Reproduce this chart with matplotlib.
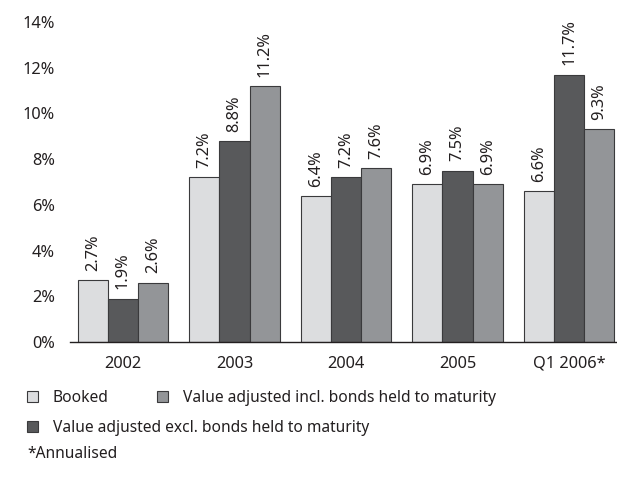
import matplotlib.pyplot as plt
import numpy as np

# Return on investment per year, three measures
years = ['2002', '2003', '2004', '2005', 'Q1 2006*']
booked = [2.7, 7.2, 6.4, 6.9, 6.6]
excl_htm = [1.9, 8.8, 7.2, 7.5, 11.7]
incl_htm = [2.6, 11.2, 7.6, 6.9, 9.3]
yticks = [0, 2, 4, 6, 8, 10, 12, 14]

series = [
    ('Booked', booked, '#dcdddf'),
    ('Value adjusted excl. bonds held to maturity', excl_htm, '#58595b'),
    ('Value adjusted incl. bonds held to maturity', incl_htm, '#939598'),
]

plt.rcParams['font.family'] = ['Noto Sans', 'DejaVu Sans']
text_color = '#231f20'
fs = 11.8

fig = plt.figure(figsize=(6.17, 4.79), dpi=100)
ax = fig.add_axes([70 / 617, 137 / 479, 547 / 617, 320 / 479])

x = np.arange(len(years))
width = 0.27
bars = []
for i, (name, vals, color) in enumerate(series):
    pos = x + (i - 1) * width
    b = ax.bar(pos, vals, width, color=color, edgecolor='#3a3a3c', linewidth=0.8,
               label=name)
    bars.append(b)
    for xp, v in zip(pos, vals):
        ax.text(xp, v + 0.4, f'{v:.1f}%', rotation=90, ha='center', va='bottom',
                fontsize=fs, color=text_color, clip_on=False)

ax.set_xlim(-0.475, 4.43)
ax.set_ylim(0, 14)
ax.set_yticks(yticks)
ax.set_yticklabels([f'{t}%' for t in yticks], fontsize=fs, color=text_color)
ax.set_xticks(x)
ax.set_xticklabels(years, fontsize=fs, color=text_color)
ax.tick_params(axis='both', length=0)
ax.tick_params(axis='y', pad=11)
ax.tick_params(axis='x', pad=10)
for s in ['top', 'right', 'left']:
    ax.spines[s].set_visible(False)
ax.spines['bottom'].set_color('#231f20')
ax.spines['bottom'].set_linewidth(1.0)

# Legend: first row Booked + incl., second row excl.
leg_kw = dict(frameon=False, fontsize=fs - 0.6, handlelength=0.72, handleheight=0.72,
              handletextpad=0.95, borderaxespad=0, borderpad=0, labelcolor=text_color)
fig.legend([bars[0], bars[2]], [series[0][0], series[2][0]], ncol=2,
           loc='center left', bbox_to_anchor=(27 / 617, 1 - 398 / 479),
           columnspacing=3.1, **leg_kw)
fig.legend([bars[1]], [series[1][0]],
           loc='center left', bbox_to_anchor=(27 / 617, 1 - 428 / 479), **leg_kw)

fig.text(27 / 617, 1 - 454 / 479, '*Annualised', fontsize=fs - 0.6, color=text_color,
         va='center', ha='left')

fig.savefig('out.png', dpi=100)
